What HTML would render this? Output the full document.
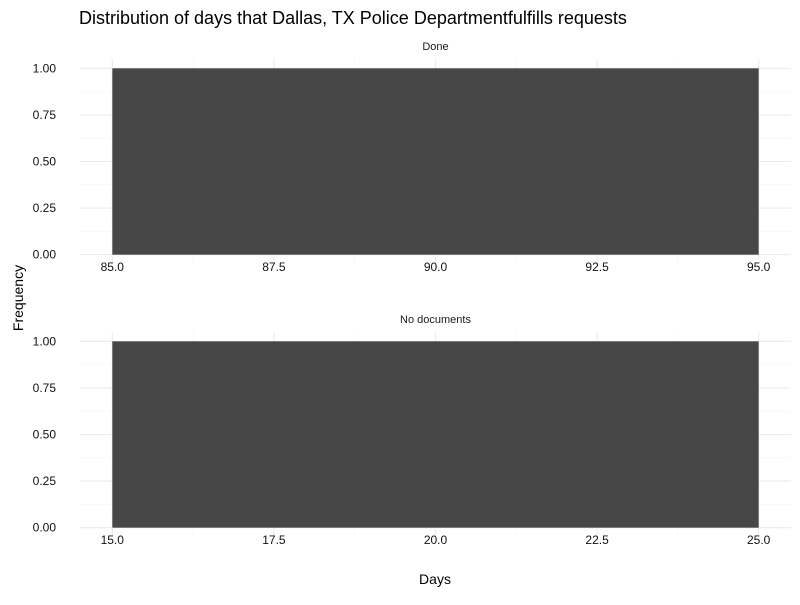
<!DOCTYPE html>
<html><head><meta charset="utf-8"><style>
body{margin:0;background:#fff;font-family:"Liberation Sans",sans-serif}
</style></head><body>
<svg id="chart" width="800" height="600" xmlns="http://www.w3.org/2000/svg">
<text x="79" y="24" font-size="18" fill="#000">Distribution of days that Dallas, TX Police Departmentfulfills requests</text>
<text x="435" y="584" font-size="14" text-anchor="middle">Days</text>
<text transform="translate(23,298) rotate(-90)" font-size="14" text-anchor="middle">Frequency</text>
</svg>
<script>
const panelNames = ["Done", "No documents"];
const binStarts = [85, 15];
const binEnds = [95, 25];
const counts = [1, 1];
const yTicks = [0, 0.25, 0.5, 0.75, 1];
const svg = document.getElementById('chart');
const NS = 'http://www.w3.org/2000/svg';
function mk(tag, attrs, parent){const e=document.createElementNS(NS,tag);for(const k in attrs)e.setAttribute(k,attrs[k]);(parent||svg).appendChild(e);return e;}
const panels=[{top:59,bottom:264},{top:332,bottom:537}];
const L=80,R=791;
panels.forEach((p,i)=>{
  const g=mk('g',{});
  
  
  const x0=binStarts[i]-0.5, x1=binEnds[i]+0.5;
  const xs=v=>L+(v-x0)/(x1-x0)*(R-L);
  const y0=-0.05,y1=1.05;
  const ys=v=>p.bottom-(v-y0)/(y1-y0)*(p.bottom-p.top);
  const step=(binEnds[i]-binStarts[i])/4;
  for(let k=0;k<4;k++){const v=binStarts[i]+step*(k+0.5);mk('line',{x1:xs(v),x2:xs(v),y1:p.top,y2:p.bottom,stroke:'#f3f3f3','stroke-width':0.6},g);}
  for(let k=0;k<4;k++){const v=yTicks[k]+0.125;mk('line',{x1:L,x2:R,y1:ys(v),y2:ys(v),stroke:'#f3f3f3','stroke-width':0.6},g);}
  for(let k=0;k<=4;k++){const v=binStarts[i]+step*k;
    mk('line',{x1:xs(v),x2:xs(v),y1:p.top,y2:p.bottom,stroke:'#ebebeb','stroke-width':1.1},g);
    const t=mk('text',{x:xs(v),y:p.bottom+7,'font-size':12,'text-anchor':'middle',fill:'#111'},g);t.textContent=v.toFixed(1);
    
    }
  yTicks.forEach(v=>{
    mk('line',{x1:L,x2:R,y1:ys(v),y2:ys(v),stroke:'#ebebeb','stroke-width':1.1},g);
    const t=mk('text',{x:56,y:ys(v)+4,'font-size':12,'text-anchor':'end',fill:'#111'},g);t.textContent=v.toFixed(2);
    
    });
  const b=mk('rect',{x:xs(binStarts[i]),y:ys(counts[i]),width:xs(binEnds[i])-xs(binStarts[i]),height:ys(0)-ys(counts[i]),fill:'#474747'},g);
  
  
  const s=mk('text',{x:(L+R)/2,y:p.top-9,'font-size':11,'text-anchor':'middle',fill:'#1a1a1a'},g);s.textContent=panelNames[i];
  
  
});
</script>
</body></html>
